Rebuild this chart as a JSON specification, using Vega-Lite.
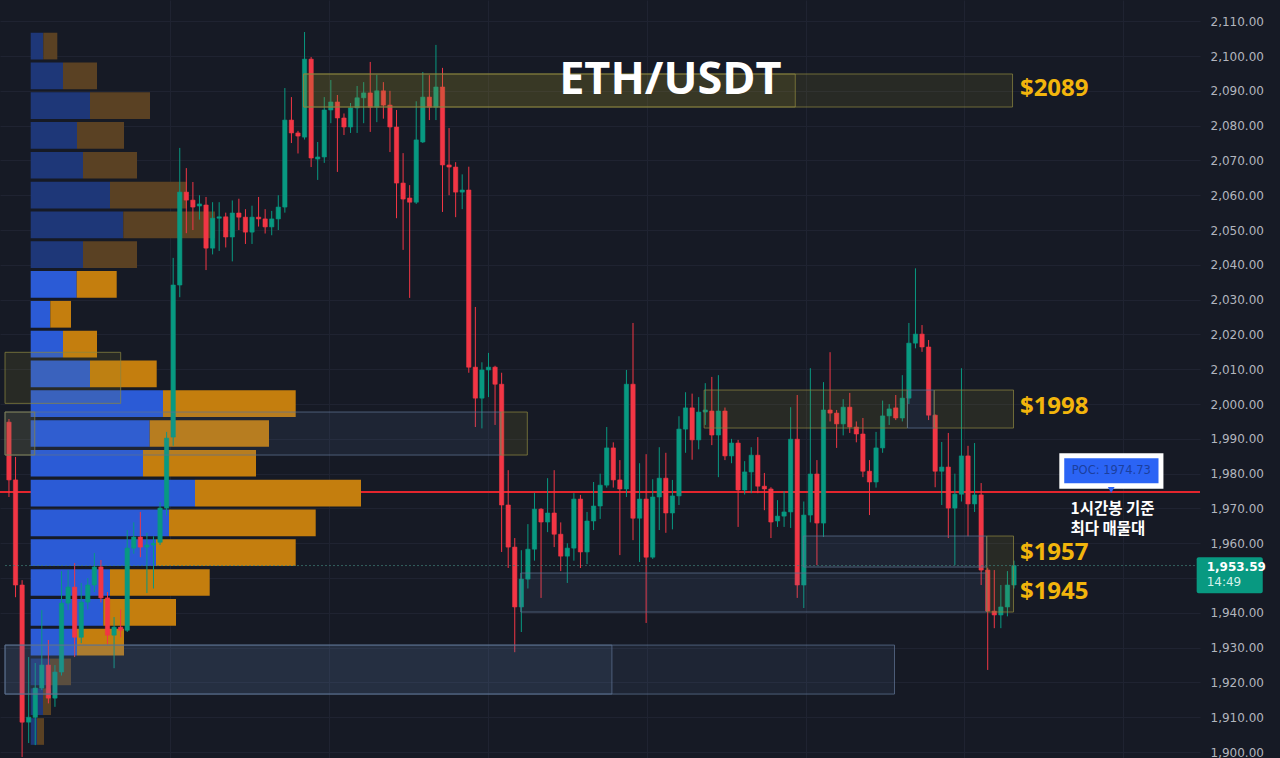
{
  "$schema": "https://vega.github.io/schema/vega-lite/v6.json",
  "width": 1200,
  "height": 758,
  "padding": {"left": 0, "top": 0, "right": 80, "bottom": 0},
  "autosize": {"type": "none"},
  "background": "#161a25",
  "config": {"view": {"stroke": null}, "text": {"font": "Open Sans"}},
  "datasets": {
    "candles": [
      {"t":0,"o":1994.8,"h":1995.7,"l":1973.3,"c":1978.2},
      {"t":1,"o":1978.2,"h":1984.8,"l":1944.5,"c":1948.0},
      {"t":2,"o":1948.0,"h":1949.4,"l":1898.6,"c":1908.6},
      {"t":3,"o":1908.6,"h":1927.3,"l":1902.6,"c":1910.0},
      {"t":4,"o":1910.0,"h":1925.6,"l":1902.0,"c":1918.4},
      {"t":5,"o":1918.4,"h":1940.8,"l":1917.8,"c":1925.0},
      {"t":6,"o":1925.0,"h":1932.2,"l":1914.0,"c":1915.5},
      {"t":7,"o":1915.5,"h":1925.0,"l":1913.0,"c":1923.0},
      {"t":8,"o":1923.0,"h":1952.0,"l":1922.0,"c":1942.8},
      {"t":9,"o":1942.8,"h":1952.3,"l":1940.8,"c":1947.4},
      {"t":10,"o":1947.4,"h":1954.3,"l":1927.3,"c":1933.0},
      {"t":11,"o":1933.0,"h":1948.6,"l":1931.3,"c":1943.1},
      {"t":12,"o":1943.1,"h":1950.0,"l":1941.0,"c":1948.0},
      {"t":13,"o":1948.0,"h":1957.2,"l":1946.0,"c":1953.2},
      {"t":14,"o":1953.2,"h":1955.2,"l":1943.0,"c":1944.3},
      {"t":15,"o":1944.3,"h":1946.0,"l":1931.0,"c":1933.6},
      {"t":16,"o":1933.6,"h":1938.8,"l":1924.1,"c":1935.9},
      {"t":17,"o":1935.9,"h":1941.0,"l":1933.0,"c":1935.0},
      {"t":18,"o":1935.0,"h":1963.8,"l":1934.5,"c":1958.6},
      {"t":19,"o":1958.6,"h":1966.0,"l":1957.0,"c":1961.8},
      {"t":20,"o":1961.8,"h":1969.0,"l":1956.0,"c":1958.9},
      {"t":21,"o":1958.9,"h":1963.0,"l":1945.7,"c":1959.5},
      {"t":22,"o":1959.5,"h":1962.0,"l":1947.0,"c":1960.0},
      {"t":23,"o":1960.3,"h":1971.8,"l":1959.5,"c":1970.1},
      {"t":24,"o":1970.1,"h":1992.0,"l":1968.0,"c":1990.2},
      {"t":25,"o":1990.5,"h":2042.0,"l":1988.0,"c":2034.2},
      {"t":26,"o":2034.2,"h":2073.6,"l":2030.7,"c":2060.9},
      {"t":27,"o":2060.9,"h":2067.8,"l":2049.1,"c":2058.6},
      {"t":28,"o":2058.6,"h":2063.8,"l":2050.0,"c":2056.6},
      {"t":29,"o":2056.9,"h":2060.0,"l":2053.0,"c":2057.5},
      {"t":30,"o":2057.2,"h":2059.5,"l":2038.5,"c":2044.8},
      {"t":31,"o":2044.8,"h":2058.0,"l":2043.0,"c":2053.4},
      {"t":32,"o":2053.4,"h":2058.0,"l":2044.0,"c":2053.8},
      {"t":33,"o":2053.8,"h":2055.0,"l":2045.0,"c":2048.0},
      {"t":34,"o":2048.0,"h":2058.5,"l":2041.0,"c":2054.9},
      {"t":35,"o":2054.9,"h":2059.0,"l":2050.0,"c":2053.7},
      {"t":36,"o":2053.7,"h":2056.0,"l":2046.0,"c":2049.4},
      {"t":37,"o":2049.4,"h":2057.0,"l":2046.0,"c":2053.7},
      {"t":38,"o":2053.7,"h":2059.5,"l":2051.0,"c":2053.2},
      {"t":39,"o":2053.2,"h":2056.0,"l":2049.0,"c":2050.9},
      {"t":40,"o":2050.9,"h":2055.5,"l":2048.5,"c":2053.2},
      {"t":41,"o":2053.2,"h":2060.0,"l":2050.0,"c":2056.6},
      {"t":42,"o":2056.6,"h":2090.8,"l":2055.0,"c":2081.6},
      {"t":43,"o":2081.6,"h":2088.2,"l":2075.0,"c":2077.9},
      {"t":44,"o":2077.9,"h":2078.5,"l":2072.0,"c":2077.0},
      {"t":45,"o":2076.7,"h":2106.9,"l":2076.0,"c":2099.1},
      {"t":46,"o":2099.1,"h":2099.7,"l":2068.1,"c":2070.7},
      {"t":47,"o":2070.4,"h":2075.3,"l":2064.4,"c":2071.0},
      {"t":48,"o":2071.0,"h":2088.2,"l":2069.3,"c":2084.5},
      {"t":49,"o":2084.5,"h":2093.1,"l":2080.7,"c":2086.8},
      {"t":50,"o":2086.8,"h":2088.8,"l":2066.7,"c":2082.2},
      {"t":51,"o":2082.2,"h":2083.5,"l":2077.3,"c":2079.6},
      {"t":52,"o":2079.6,"h":2086.5,"l":2077.9,"c":2085.1},
      {"t":53,"o":2085.1,"h":2091.4,"l":2077.9,"c":2088.0},
      {"t":54,"o":2088.0,"h":2092.5,"l":2080.7,"c":2089.4},
      {"t":55,"o":2089.4,"h":2098.3,"l":2078.2,"c":2085.3},
      {"t":56,"o":2085.3,"h":2094.6,"l":2081.0,"c":2090.0},
      {"t":57,"o":2090.0,"h":2092.5,"l":2082.0,"c":2085.9},
      {"t":58,"o":2085.9,"h":2090.0,"l":2072.4,"c":2079.6},
      {"t":59,"o":2079.6,"h":2084.5,"l":2053.4,"c":2063.5},
      {"t":60,"o":2063.5,"h":2072.1,"l":2044.3,"c":2058.9},
      {"t":61,"o":2059.2,"h":2062.9,"l":2030.5,"c":2058.0},
      {"t":62,"o":2058.0,"h":2087.0,"l":2057.5,"c":2075.9},
      {"t":63,"o":2075.3,"h":2095.4,"l":2075.0,"c":2088.2},
      {"t":64,"o":2088.2,"h":2094.5,"l":2081.6,"c":2085.3},
      {"t":65,"o":2085.3,"h":2103.2,"l":2081.6,"c":2091.1},
      {"t":66,"o":2091.1,"h":2096.6,"l":2055.2,"c":2068.7},
      {"t":67,"o":2068.7,"h":2079.3,"l":2060.0,"c":2068.1},
      {"t":68,"o":2068.1,"h":2069.5,"l":2053.7,"c":2060.9},
      {"t":69,"o":2060.9,"h":2066.0,"l":2056.0,"c":2061.5},
      {"t":70,"o":2061.5,"h":2068.2,"l":2009.0,"c":2010.6},
      {"t":71,"o":2010.6,"h":2027.9,"l":1993.4,"c":2001.7},
      {"t":72,"o":2001.7,"h":2012.0,"l":1993.0,"c":2009.8},
      {"t":73,"o":2009.8,"h":2014.7,"l":2002.0,"c":2010.6},
      {"t":74,"o":2010.6,"h":2011.0,"l":1994.0,"c":2005.7},
      {"t":75,"o":2005.7,"h":2009.0,"l":1957.5,"c":1971.0},
      {"t":76,"o":1971.0,"h":1981.0,"l":1952.9,"c":1958.9},
      {"t":77,"o":1958.9,"h":1961.5,"l":1928.7,"c":1941.7},
      {"t":78,"o":1941.7,"h":1958.0,"l":1934.5,"c":1949.7},
      {"t":79,"o":1949.7,"h":1965.5,"l":1947.0,"c":1958.3},
      {"t":80,"o":1958.3,"h":1974.5,"l":1955.0,"c":1969.8},
      {"t":81,"o":1969.8,"h":1970.1,"l":1944.3,"c":1966.1},
      {"t":82,"o":1966.1,"h":1978.7,"l":1963.2,"c":1968.7},
      {"t":83,"o":1968.7,"h":1981.0,"l":1958.9,"c":1962.6},
      {"t":84,"o":1962.6,"h":1966.0,"l":1952.0,"c":1956.3},
      {"t":85,"o":1956.3,"h":1960.0,"l":1948.6,"c":1958.6},
      {"t":86,"o":1958.6,"h":1974.4,"l":1955.0,"c":1972.7},
      {"t":87,"o":1972.7,"h":1973.9,"l":1952.9,"c":1957.5},
      {"t":88,"o":1957.5,"h":1969.0,"l":1954.0,"c":1966.4},
      {"t":89,"o":1966.4,"h":1977.6,"l":1963.8,"c":1970.7},
      {"t":90,"o":1970.7,"h":1980.0,"l":1967.0,"c":1976.7},
      {"t":91,"o":1976.7,"h":1993.4,"l":1976.0,"c":1987.4},
      {"t":92,"o":1987.4,"h":1989.0,"l":1976.0,"c":1978.2},
      {"t":93,"o":1978.2,"h":1983.9,"l":1956.6,"c":1975.6},
      {"t":94,"o":1975.6,"h":2009.8,"l":1973.3,"c":2005.7},
      {"t":95,"o":2005.7,"h":2023.3,"l":1960.9,"c":1967.2},
      {"t":96,"o":1967.2,"h":1983.0,"l":1954.6,"c":1972.7},
      {"t":97,"o":1972.7,"h":1985.6,"l":1937.1,"c":1956.0},
      {"t":98,"o":1956.0,"h":1978.4,"l":1955.5,"c":1973.3},
      {"t":99,"o":1973.3,"h":1987.6,"l":1963.8,"c":1978.7},
      {"t":100,"o":1978.7,"h":1986.0,"l":1963.0,"c":1968.7},
      {"t":101,"o":1968.7,"h":1978.2,"l":1964.0,"c":1973.6},
      {"t":102,"o":1973.6,"h":1996.5,"l":1971.0,"c":1992.8},
      {"t":103,"o":1992.8,"h":2003.4,"l":1986.0,"c":1998.9},
      {"t":104,"o":1998.9,"h":2003.0,"l":1984.0,"c":1989.7},
      {"t":105,"o":1989.7,"h":2002.0,"l":1987.0,"c":1997.7},
      {"t":106,"o":1997.7,"h":2006.0,"l":1994.0,"c":1998.3},
      {"t":107,"o":1998.0,"h":2007.8,"l":1988.2,"c":1991.1},
      {"t":108,"o":1991.1,"h":2008.3,"l":1979.0,"c":1998.0},
      {"t":109,"o":1998.0,"h":1999.0,"l":1983.9,"c":1985.1},
      {"t":110,"o":1985.1,"h":1990.0,"l":1983.0,"c":1988.8},
      {"t":111,"o":1988.8,"h":1989.7,"l":1964.7,"c":1975.3},
      {"t":112,"o":1975.3,"h":1983.6,"l":1974.0,"c":1980.5},
      {"t":113,"o":1980.5,"h":1987.6,"l":1974.4,"c":1985.3},
      {"t":114,"o":1985.3,"h":1990.5,"l":1974.4,"c":1976.4},
      {"t":115,"o":1976.4,"h":1980.2,"l":1969.5,"c":1975.6},
      {"t":116,"o":1975.6,"h":1976.1,"l":1961.5,"c":1966.1},
      {"t":117,"o":1966.4,"h":1972.4,"l":1964.7,"c":1967.8},
      {"t":118,"o":1967.8,"h":1975.0,"l":1964.7,"c":1969.0},
      {"t":119,"o":1969.0,"h":1999.1,"l":1964.4,"c":1989.9},
      {"t":120,"o":1989.9,"h":2002.6,"l":1944.3,"c":1948.0},
      {"t":121,"o":1948.0,"h":1972.0,"l":1941.4,"c":1968.1},
      {"t":122,"o":1968.1,"h":2010.3,"l":1966.0,"c":1979.9},
      {"t":123,"o":1979.9,"h":1983.9,"l":1953.7,"c":1965.8},
      {"t":124,"o":1965.8,"h":2006.3,"l":1961.8,"c":1998.3},
      {"t":125,"o":1998.3,"h":2014.9,"l":1995.0,"c":1997.4},
      {"t":126,"o":1997.4,"h":1998.3,"l":1987.4,"c":1994.3},
      {"t":127,"o":1994.3,"h":2001.4,"l":1991.0,"c":1999.1},
      {"t":128,"o":1999.1,"h":2003.2,"l":1991.7,"c":1993.4},
      {"t":129,"o":1993.4,"h":1995.0,"l":1989.0,"c":1991.4},
      {"t":130,"o":1991.4,"h":1996.0,"l":1979.0,"c":1980.7},
      {"t":131,"o":1980.7,"h":1983.9,"l":1968.1,"c":1977.6},
      {"t":132,"o":1977.6,"h":1992.0,"l":1976.0,"c":1987.4},
      {"t":133,"o":1987.4,"h":2001.0,"l":1986.0,"c":1996.6},
      {"t":134,"o":1996.6,"h":2000.0,"l":1994.0,"c":1998.6},
      {"t":135,"o":1998.9,"h":2002.6,"l":1995.4,"c":1996.0},
      {"t":136,"o":1996.0,"h":2008.3,"l":1995.0,"c":2001.7},
      {"t":137,"o":2001.7,"h":2023.3,"l":2000.0,"c":2017.5},
      {"t":138,"o":2017.5,"h":2039.0,"l":2016.0,"c":2020.1},
      {"t":139,"o":2020.1,"h":2022.7,"l":2015.0,"c":2016.4},
      {"t":140,"o":2016.4,"h":2018.4,"l":1995.4,"c":1996.8},
      {"t":141,"o":1996.8,"h":1997.0,"l":1976.1,"c":1980.7},
      {"t":142,"o":1980.7,"h":1989.1,"l":1971.0,"c":1981.9},
      {"t":143,"o":1981.9,"h":1991.7,"l":1961.5,"c":1970.1},
      {"t":144,"o":1970.1,"h":1980.0,"l":1953.7,"c":1974.1},
      {"t":145,"o":1974.1,"h":2010.3,"l":1972.0,"c":1985.1},
      {"t":146,"o":1985.1,"h":1988.0,"l":1962.0,"c":1971.3},
      {"t":147,"o":1971.3,"h":1988.8,"l":1969.0,"c":1973.9},
      {"t":148,"o":1973.9,"h":1977.3,"l":1948.0,"c":1952.3},
      {"t":149,"o":1952.3,"h":1953.0,"l":1923.6,"c":1940.5},
      {"t":150,"o":1940.5,"h":1952.3,"l":1935.6,"c":1939.4},
      {"t":151,"o":1939.4,"h":1948.0,"l":1935.6,"c":1941.7},
      {"t":152,"o":1941.7,"h":1952.0,"l":1939.0,"c":1948.0},
      {"t":153,"o":1948.0,"h":1955.0,"l":1947.0,"c":1953.59}
    ],
    "profile": [
      {"hi":2106.70,"lo":2099.03,"buy":12.6,"total":26.6,"va":"out"},
      {"hi":2098.14,"lo":2090.47,"buy":32.3,"total":66.3,"va":"out"},
      {"hi":2089.58,"lo":2081.91,"buy":59.3,"total":119.3,"va":"out"},
      {"hi":2081.01,"lo":2073.34,"buy":46.3,"total":93.3,"va":"out"},
      {"hi":2072.45,"lo":2064.78,"buy":52.3,"total":106.3,"va":"out"},
      {"hi":2063.89,"lo":2056.22,"buy":79.3,"total":156.3,"va":"out"},
      {"hi":2055.32,"lo":2047.65,"buy":92.6,"total":184.3,"va":"out"},
      {"hi":2046.76,"lo":2039.09,"buy":52.3,"total":106.3,"va":"out"},
      {"hi":2038.20,"lo":2030.53,"buy":46.0,"total":86.0,"va":"in"},
      {"hi":2029.63,"lo":2021.96,"buy":19.6,"total":40.3,"va":"in"},
      {"hi":2021.07,"lo":2013.40,"buy":32.3,"total":66.3,"va":"in"},
      {"hi":2012.51,"lo":2004.84,"buy":59.3,"total":126.0,"va":"in"},
      {"hi":2003.94,"lo":1996.27,"buy":132.3,"total":265.0,"va":"in"},
      {"hi":1995.38,"lo":1987.71,"buy":119.0,"total":238.3,"va":"in"},
      {"hi":1986.82,"lo":1979.15,"buy":112.3,"total":225.3,"va":"in"},
      {"hi":1978.26,"lo":1970.59,"buy":164.3,"total":330.3,"va":"in"},
      {"hi":1969.69,"lo":1962.02,"buy":138.3,"total":285.0,"va":"in"},
      {"hi":1961.13,"lo":1953.46,"buy":125.3,"total":265.0,"va":"in"},
      {"hi":1952.57,"lo":1944.90,"buy":79.3,"total":179.0,"va":"in"},
      {"hi":1944.00,"lo":1936.33,"buy":72.6,"total":145.3,"va":"in"},
      {"hi":1935.44,"lo":1927.77,"buy":46.3,"total":93.3,"va":"in"},
      {"hi":1926.88,"lo":1919.21,"buy":19.3,"total":40.3,"va":"out"},
      {"hi":1918.31,"lo":1910.64,"buy":12.3,"total":20.3,"va":"out"},
      {"hi":1909.75,"lo":1902.08,"buy":6.3,"total":13.3,"va":"out"}
    ],
    "zones": [
      {"t0":-0.6,"t1":134.81,"hi":1930.75,"lo":1916.67,"kind":"blue"},
      {"t0":-0.6,"t1":91.79,"hi":1930.75,"lo":1916.67,"kind":"blue"},
      {"t0":77.9,"t1":148.85,"hi":1951.45,"lo":1940.24,"kind":"blue"},
      {"t0":120.93,"t1":148.85,"hi":1962.08,"lo":1953.17,"kind":"blue"},
      {"t0":148.85,"t1":152.93,"hi":1962.08,"lo":1940.24,"kind":"yellow"},
      {"t0":-0.6,"t1":74.88,"hi":1997.71,"lo":1985.35,"kind":"blue"},
      {"t0":-0.6,"t1":3.93,"hi":1997.71,"lo":1985.35,"kind":"yellow"},
      {"t0":74.88,"t1":78.91,"hi":1997.71,"lo":1985.35,"kind":"yellow"},
      {"t0":-0.6,"t1":17.01,"hi":2014.87,"lo":2000.2,"kind":"yellow"},
      {"t0":105.83,"t1":136.78,"hi":2004.03,"lo":1993.11,"kind":"yellow"},
      {"t0":136.78,"t1":140.85,"hi":2004.03,"lo":1993.11,"kind":"blue"},
      {"t0":140.85,"t1":152.93,"hi":2004.03,"lo":1993.11,"kind":"yellow"},
      {"t0":44.84,"t1":119.7,"hi":2094.84,"lo":2085.35,"kind":"yellow"},
      {"t0":44.84,"t1":152.78,"hi":2094.84,"lo":2085.35,"kind":"yellow"}
    ]
  },
  "resolve": {"scale": {"x": "independent"}, "axis": {"x": "independent", "y": "independent"}},
  "layer": [
    {
      "data": {"values": [{}]},
      "mark": {"type": "rule", "color": "#e3252d", "strokeWidth": 2},
      "encoding": {
        "x": {"datum": -0.6039, "type": "quantitative", "scale": {"domain": [-0.6039, 180.556], "nice": false, "zero": false},
              "axis": {"values": [25, 49, 73, 97, 121, 145, 169], "grid": true, "gridColor": "#1f2331", "gridWidth": 1, "labels": false, "ticks": false, "domain": false, "title": null}},
        "x2": {"datum": 180.556},
        "y": {"datum": 1974.73, "type": "quantitative", "scale": {"domain": [1898.3, 2116.1], "nice": false, "zero": false},
              "axis": {"orient": "right", "values": [1900,1910,1920,1930,1940,1950,1960,1970,1980,1990,2000,2010,2020,2030,2040,2050,2060,2070,2080,2090,2100,2110],
                       "format": ",.2f", "labelExpr": "datum.value == 1950 ? '' : datum.label",
                       "labelFont": "DejaVu Sans", "labelFontSize": 12, "labelColor": "#b2b5be", "labelAlign": "left", "labelBaseline": "middle",
                       "labelPadding": 10, "ticks": false, "domain": false, "grid": true, "gridColor": "#1f2331", "gridWidth": 1,
                       "title": null, "labelFlush": false, "labelOverlap": false, "labelBound": false}}
      }
    },
    {
      "data": {"name": "profile"},
      "layer": [
        {
          "mark": {"type": "rect"},
          "encoding": {
            "x": {"field": "buy", "type": "quantitative", "scale": {"domain": [-30.7, 1169.3], "nice": false, "zero": false}, "axis": null},
            "x2": {"datum": 0},
            "y": {"field": "hi", "type": "quantitative", "scale": {"domain": [1898.3, 2116.1], "nice": false, "zero": false}, "axis": null},
            "y2": {"field": "lo"},
            "fill": {"condition": {"test": "datum.va === 'in'", "value": "#2b5bd6"}, "value": "#1e3778"}
          }
        },
        {
          "mark": {"type": "rect"},
          "encoding": {
            "x": {"field": "buy", "type": "quantitative", "scale": {"domain": [-30.7, 1169.3], "nice": false, "zero": false}, "axis": null},
            "x2": {"field": "total"},
            "y": {"field": "hi", "type": "quantitative", "scale": {"domain": [1898.3, 2116.1], "nice": false, "zero": false}, "axis": null},
            "y2": {"field": "lo"},
            "fill": {"condition": {"test": "datum.va === 'in'", "value": "#c47e0e"}, "value": "#5a4123"}
          }
        }
      ]
    },
    {
      "layer": [
        {
          "data": {"name": "candles"},
          "mark": {"type": "rule", "strokeWidth": 1},
          "encoding": {
            "x": {"field": "t", "type": "quantitative", "scale": {"domain": [-0.6039, 180.556], "nice": false, "zero": false}, "axis": null},
            "y": {"field": "l", "type": "quantitative", "scale": {"domain": [1898.3, 2116.1], "nice": false, "zero": false}, "axis": null},
            "y2": {"field": "h"},
            "color": {"condition": {"test": "datum.c >= datum.o", "value": "#089981"}, "value": "#f23645"}
          }
        },
        {
          "data": {"name": "candles"},
          "mark": {"type": "bar", "orient": "vertical", "width": 4.3, "strokeWidth": 0.6},
          "encoding": {
            "x": {"field": "t", "type": "quantitative", "scale": {"domain": [-0.6039, 180.556], "nice": false, "zero": false}, "axis": null},
            "y": {"field": "o", "type": "quantitative", "scale": {"domain": [1898.3, 2116.1], "nice": false, "zero": false}, "axis": null},
            "y2": {"field": "c"},
            "fill": {"condition": {"test": "datum.c >= datum.o", "value": "#089981"}, "value": "#f23645"},
            "stroke": {"condition": {"test": "datum.c >= datum.o", "value": "#089981"}, "value": "#f23645"}
          }
        },
        {
          "data": {"name": "zones"},
          "mark": {"type": "rect", "strokeWidth": 1, "strokeOpacity": 0.75},
          "encoding": {
            "x": {"field": "t0", "type": "quantitative", "scale": {"domain": [-0.6039, 180.556], "nice": false, "zero": false}, "axis": null},
            "x2": {"field": "t1"},
            "y": {"field": "hi", "type": "quantitative", "scale": {"domain": [1898.3, 2116.1], "nice": false, "zero": false}, "axis": null},
            "y2": {"field": "lo"},
            "fill": {"condition": {"test": "datum.kind === 'yellow'", "value": "#9a8f2a"}, "value": "#5b7fa8"},
            "fillOpacity": {"condition": {"test": "datum.kind === 'yellow'", "value": 0.14}, "value": 0.12},
            "stroke": {"condition": {"test": "datum.kind === 'yellow'", "value": "#8a8440"}, "value": "#5d7190"}
          }
        },
        {
          "data": {"values": [{}]},
          "mark": {"type": "rule", "color": "#3f7f78", "strokeWidth": 1, "strokeDash": [2, 2], "opacity": 0.7},
          "encoding": {
            "x": {"datum": -0.6039, "type": "quantitative", "scale": {"domain": [-0.6039, 180.556], "nice": false, "zero": false}, "axis": null},
            "x2": {"datum": 180.556},
            "y": {"datum": 1953.59, "type": "quantitative", "scale": {"domain": [1898.3, 2116.1], "nice": false, "zero": false}, "axis": null}
          }
        },
        {
          "data": {"values": [{}]},
          "mark": {"type": "text", "text": "ETH/USDT", "font": "Open Sans", "fontWeight": "bold", "fontSize": 45, "color": "#ffffff", "align": "center", "baseline": "alphabetic"},
          "encoding": {
            "x": {"datum": 100.69, "type": "quantitative", "scale": {"domain": [-0.6039, 180.556], "nice": false, "zero": false}, "axis": null},
            "y": {"datum": 2089.1, "type": "quantitative", "scale": {"domain": [1898.3, 2116.1], "nice": false, "zero": false}, "axis": null}
          }
        },
        {
          "data": {"values": [
            {"label": "$2089", "p": 2090.5},
            {"label": "$1998", "p": 1999.1},
            {"label": "$1957", "p": 1957.1},
            {"label": "$1945", "p": 1946.1}
          ]},
          "mark": {"type": "text", "font": "Open Sans", "fontWeight": "bold", "fontSize": 24, "color": "#f2b50c", "align": "left", "baseline": "middle"},
          "encoding": {
            "x": {"datum": 153.9, "type": "quantitative", "scale": {"domain": [-0.6039, 180.556], "nice": false, "zero": false}, "axis": null},
            "y": {"field": "p", "type": "quantitative", "scale": {"domain": [1898.3, 2116.1], "nice": false, "zero": false}, "axis": null},
            "text": {"field": "label"}
          }
        },
        {
          "data": {"values": [{}]},
          "mark": {"type": "rect", "color": "#ffffff"},
          "encoding": {
            "x": {"datum": 159.9, "type": "quantitative", "scale": {"domain": [-0.6039, 180.556], "nice": false, "zero": false}, "axis": null},
            "x2": {"datum": 175.75},
            "y": {"datum": 1985.84, "type": "quantitative", "scale": {"domain": [1898.3, 2116.1], "nice": false, "zero": false}, "axis": null},
            "y2": {"datum": 1975.67}
          }
        },
        {
          "data": {"values": [{}]},
          "mark": {"type": "rect", "color": "#2b64f5"},
          "encoding": {
            "x": {"datum": 160.65, "type": "quantitative", "scale": {"domain": [-0.6039, 180.556], "nice": false, "zero": false}, "axis": null},
            "x2": {"datum": 175.0},
            "y": {"datum": 1984.4, "type": "quantitative", "scale": {"domain": [1898.3, 2116.1], "nice": false, "zero": false}, "axis": null},
            "y2": {"datum": 1977.22}
          }
        },
        {
          "data": {"values": [{}]},
          "mark": {"type": "point", "shape": "triangle-down", "filled": true, "color": "#2b64f5", "size": 45, "opacity": 1},
          "encoding": {
            "x": {"datum": 167.8, "type": "quantitative", "scale": {"domain": [-0.6039, 180.556], "nice": false, "zero": false}, "axis": null},
            "y": {"datum": 1975.3, "type": "quantitative", "scale": {"domain": [1898.3, 2116.1], "nice": false, "zero": false}, "axis": null}
          }
        },
        {
          "data": {"values": [{}]},
          "mark": {"type": "text", "text": "POC: 1974.73", "font": "DejaVu Sans", "fontSize": 11.5, "color": "#1b3f9e", "align": "center", "baseline": "middle"},
          "encoding": {
            "x": {"datum": 167.8, "type": "quantitative", "scale": {"domain": [-0.6039, 180.556], "nice": false, "zero": false}, "axis": null},
            "y": {"datum": 1980.8, "type": "quantitative", "scale": {"domain": [1898.3, 2116.1], "nice": false, "zero": false}, "axis": null}
          }
        },
        {
          "data": {"values": [{}]},
          "mark": {"type": "text", "text": ["1시간봉 기준", "최다 매물대"], "font": "Noto Sans CJK KR", "fontWeight": "bold", "fontSize": 15.5, "lineHeight": 20, "color": "#ffffff", "align": "left", "baseline": "middle"},
          "encoding": {
            "x": {"datum": 161.6, "type": "quantitative", "scale": {"domain": [-0.6039, 180.556], "nice": false, "zero": false}, "axis": null},
            "y": {"datum": 1969.9, "type": "quantitative", "scale": {"domain": [1898.3, 2116.1], "nice": false, "zero": false}, "axis": null}
          }
        },
        {
          "data": {"values": [{}]},
          "mark": {"type": "rect", "color": "#089981", "cornerRadius": 2},
          "encoding": {
            "x": {"datum": 180.81, "type": "quantitative", "scale": {"domain": [-0.6039, 180.556], "nice": false, "zero": false}, "axis": null},
            "x2": {"datum": 190.87},
            "y": {"datum": 1955.96, "type": "quantitative", "scale": {"domain": [1898.3, 2116.1], "nice": false, "zero": false}, "axis": null},
            "y2": {"datum": 1945.61}
          }
        },
        {
          "data": {"values": [{}]},
          "mark": {"type": "text", "text": "1,953.59", "font": "DejaVu Sans", "fontWeight": "bold", "fontSize": 12, "color": "#ffffff", "align": "left", "baseline": "middle"},
          "encoding": {
            "x": {"datum": 182.33, "type": "quantitative", "scale": {"domain": [-0.6039, 180.556], "nice": false, "zero": false}, "axis": null},
            "y": {"datum": 1953.26, "type": "quantitative", "scale": {"domain": [1898.3, 2116.1], "nice": false, "zero": false}, "axis": null}
          }
        },
        {
          "data": {"values": [{}]},
          "mark": {"type": "text", "text": "14:49", "font": "DejaVu Sans", "fontSize": 12, "color": "#d6f2ea", "align": "left", "baseline": "middle"},
          "encoding": {
            "x": {"datum": 182.33, "type": "quantitative", "scale": {"domain": [-0.6039, 180.556], "nice": false, "zero": false}, "axis": null},
            "y": {"datum": 1948.94, "type": "quantitative", "scale": {"domain": [1898.3, 2116.1], "nice": false, "zero": false}, "axis": null}
          }
        }
      ]
    }
  ]
}
